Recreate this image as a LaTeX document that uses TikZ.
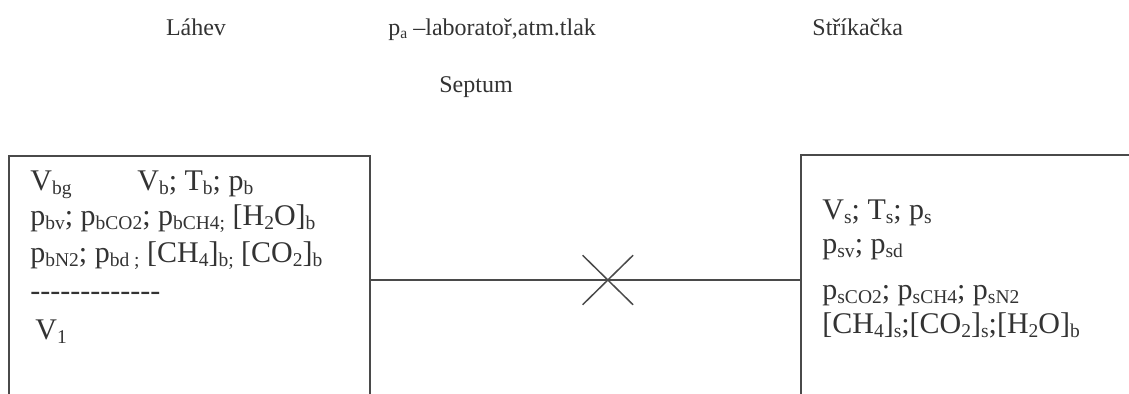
\documentclass[tikz,border=0pt]{standalone}
\usepackage{fontspec}
\setmainfont{Liberation Serif}
\usetikzlibrary{shapes.misc}

\definecolor{ink}{HTML}{333333}
\definecolor{wallgray}{HTML}{4A4A4A}
\newcommand{\lo}[1]{\raisebox{-0.15em}{\fontsize{9.75}{10}\selectfont #1}}
\newcommand{\los}[1]{\raisebox{-0.15em}{\fontsize{7.8}{9}\selectfont #1}}
\newcommand{\hy}{-\kern0pt}

\begin{document}
\begin{tikzpicture}[x=0.5pt, y=-0.5pt,
  vessel/.style={rectangle, draw=wallgray, line width=0.75pt, inner sep=0pt},
  wall/.style={draw=wallgray, line width=0.75pt},
  septx/.style={cross out, draw=wallgray, line width=0.75pt, inner sep=0pt, minimum width=24.5pt, minimum height=24pt},
  title/.style={inner sep=0pt, text=ink, font=\fontsize{12}{14}\selectfont},
  row/.style={inner sep=0pt, anchor=base west, text=ink, font=\fontsize{15}{18}\selectfont}
]
  \useasboundingbox (0,0) rectangle (1129,393);

  % nadoby
  \node[vessel, minimum width=180.5pt, minimum height=124pt] (lahevbox) at (189.5,280) {};
  \node[vessel, minimum width=200pt, minimum height=125pt] (strikbox) at (1001,280) {};

  % spojeni pres septum
  \draw[wall] (lahevbox) -- node[septx, pos=0.552] (septum) {} (strikbox);

  % popisky nahore
  \node[title, anchor=base] (lahev) at (196,35) {Láhev};
  \node[title, anchor=base west] (lab) at (388,35) {p\los{a} –laboratoř,atm.tlak};
  \node[title, anchor=base] (septlbl) at (476,92) {Septum};
  \node[title, anchor=base west] (strik) at (812,35) {Stříkačka};

  % lahev
  \node[row] (lb1) at (30,190) {V\lo{bg}};
  \node[row] (lb2) at (137,190) {V\lo{b}; T\lo{b}; p\lo{b}};
  \node[row] (lb3) at (30,225) {p\lo{bv}; p\lo{bCO2}; p\lo{bCH4;} [H\lo{2}O]\lo{b}};
  \node[row] (lb4) at (30,262) {p\lo{bN2}; p\lo{bd ;} [CH\lo{4}]\lo{b;} [CO\lo{2}]\lo{b}};
  \node[row] (lb5) at (30,300) {\hy\hy\hy\hy\hy\hy\hy\hy\hy\hy\hy\hy\hy};
  \node[row] (lb6) at (35,339) {V\lo{1}};

  % strikacka
  \node[row] (sb1) at (822,219) {V\lo{s}; T\lo{s}; p\lo{s}};
  \node[row] (sb2) at (822,253) {p\lo{sv}; p\lo{sd}};
  \node[row] (sb3) at (822,299) {p\lo{sCO2}; p\lo{sCH4}; p\lo{sN2}};
  \node[row] (sb4) at (822,333) {[CH\lo{4}]\lo{s};[CO\lo{2}]\lo{s};[H\lo{2}O]\lo{b}};
\end{tikzpicture}
\end{document}
